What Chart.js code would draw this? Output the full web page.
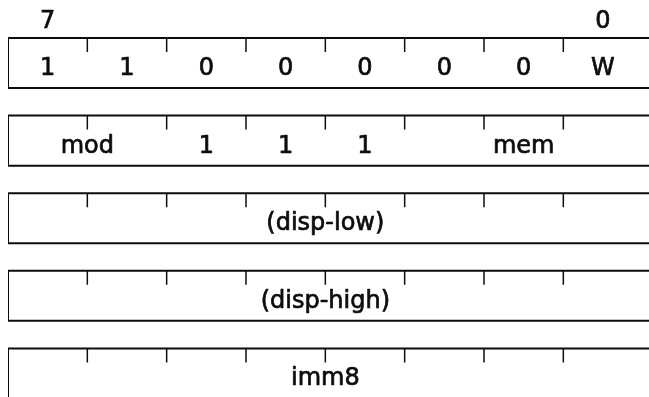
<!DOCTYPE html>
<html>
<head>
<meta charset="utf-8">
<script src="https://cdn.jsdelivr.net/npm/chart.js@4.4.1/dist/chart.umd.min.js"></script>
<style>
    html, body { margin: 0; padding: 0; background: #fff; }
    #wrap { width: 649px; height: 397px; }
</style>
</head>
<body>
<div id="wrap"><canvas id="chart"></canvas></div>
<script>
// bit numbers printed above the first byte (cell 0 = bit 7)
const bitNumbers = ['7', '0'];
const bitNumberCells = [0, 7];

// fields of each byte, from bit 7 down to bit 0, with their width in bits
const byte1Fields = ['1', '1', '0', '0', '0', '0', '0', 'W'];
const byte1Widths = [1, 1, 1, 1, 1, 1, 1, 1];
const byte2Fields = ['mod', '1', '1', '1', 'mem'];
const byte2Widths = [2, 1, 1, 1, 3];
const byte3Fields = ['(disp-low)'];
const byte3Widths = [8];
const byte4Fields = ['(disp-high)'];
const byte4Widths = [8];
const byte5Fields = ['imm8'];
const byte5Widths = [8];

const byteFields = [byte1Fields, byte2Fields, byte3Fields, byte4Fields, byte5Fields];
const byteWidths = [byte1Widths, byte2Widths, byte3Widths, byte4Widths, byte5Widths];
const BITS = 8;

// layout, in row / bit units
const X_MAX = 8.08;
const BOX_H = 0.645;
const TICK_LEN = 0.18;
const TEXT_DY = 0.477;
const NUM_DY = -0.13;
const INK = '#0d0d0d';
const FONT = '24px "DejaVu Sans"';

function frameData(row) {
    return [
        { x: X_MAX, y: row },
        { x: 0, y: row },
        { x: 0, y: row + BOX_H },
        { x: X_MAX, y: row + BOX_H }
    ];
}

function tickData() {
    const pts = [];
    byteFields.forEach((_, row) => {
        for (let k = 1; k < BITS; k++) {
            pts.push({ x: k, y: row });
            pts.push({ x: k, y: row + TICK_LEN });
            pts.push({ x: k, y: null });
        }
    });
    return pts;
}

const datasets = byteFields.map((_, row) => ({
    data: frameData(row),
    borderColor: INK,
    borderWidth: 2,
    pointRadius: 0,
    showLine: true,
    fill: false
}));

datasets.push({
    data: tickData(),
    borderColor: INK,
    borderWidth: 1.5,
    pointRadius: 0,
    showLine: true,
    spanGaps: false,
    fill: false
});

function drawLabel(ctx, text, px, py) {
    ctx.fillText(text, px, py);
    ctx.strokeText(text, px, py);
}

const fieldLabels = {
    id: 'fieldLabels',
    afterDatasetsDraw(chart) {
        const { ctx, scales: { x, y } } = chart;
        ctx.save();
        ctx.font = FONT;
        ctx.fillStyle = INK;
        ctx.strokeStyle = INK;
        ctx.lineWidth = 0.7;
        ctx.lineJoin = 'round';
        ctx.textAlign = 'center';
        ctx.textBaseline = 'alphabetic';
        byteFields.forEach((fields, row) => {
            let start = 0;
            fields.forEach((text, i) => {
                const w = byteWidths[row][i];
                drawLabel(ctx, text, x.getPixelForValue(start + w / 2), y.getPixelForValue(row + TEXT_DY));
                start += w;
            });
        });
        bitNumbers.forEach((text, i) => {
            drawLabel(ctx, text, x.getPixelForValue(bitNumberCells[i] + 0.5), y.getPixelForValue(NUM_DY));
        });
        ctx.restore();
    }
};

new Chart(document.getElementById('chart'), {
    type: 'scatter',
    data: { datasets: datasets },
    options: {
        responsive: true,
        maintainAspectRatio: false,
        animation: false,
        layout: { padding: { left: 8, right: 0, top: 0, bottom: 0 } },
        plugins: {
            legend: { display: false },
            tooltip: { enabled: false }
        },
        scales: {
            x: { type: 'linear', display: false, min: 0, max: X_MAX },
            y: { type: 'linear', display: false, reverse: true, min: -0.49, max: 4.626 }
        }
    },
    plugins: [fieldLabels]
});
</script>
</body>
</html>
